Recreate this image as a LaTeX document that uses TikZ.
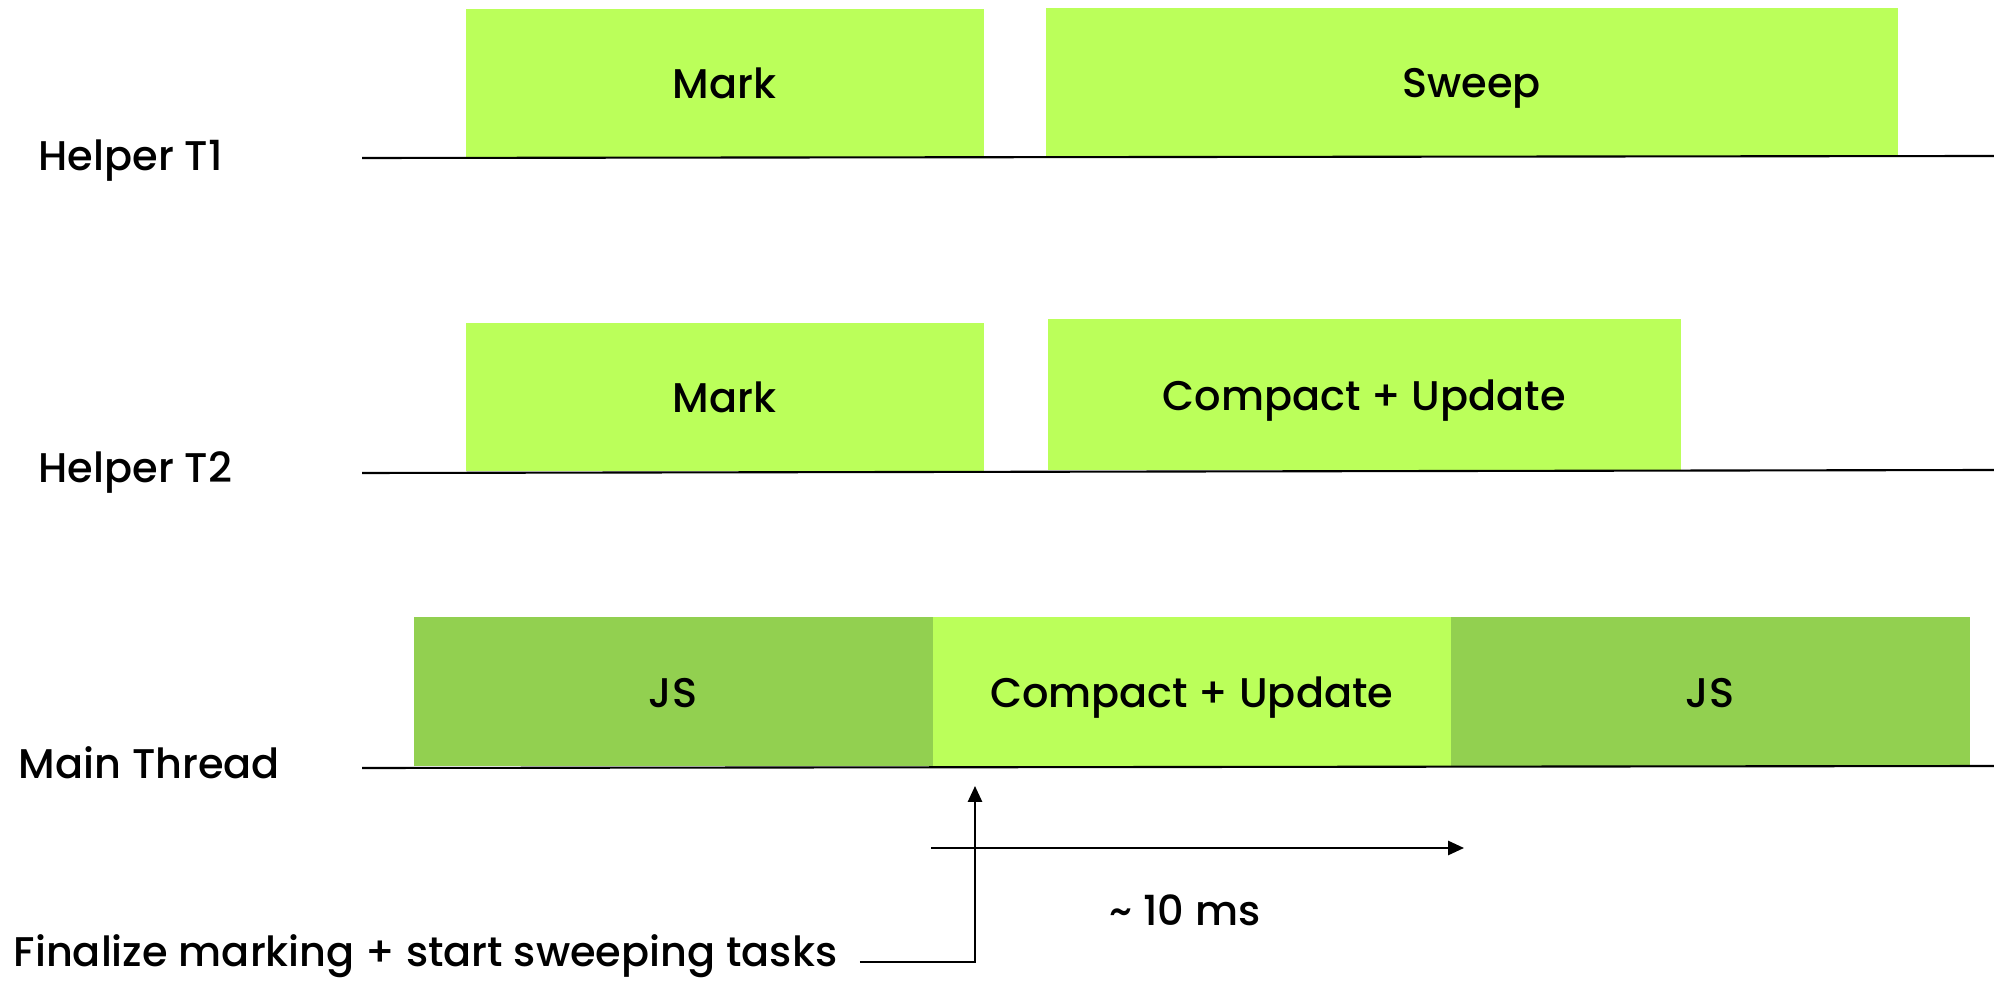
\documentclass[tikz,border=0pt]{standalone}
\usepackage{fontspec}
\setmainfont{Poppins Medium}
\usetikzlibrary{arrows.meta,positioning}
\definecolor{gclight}{HTML}{BBFF5A}
\definecolor{gcdark}{HTML}{92D050}
\begin{document}
\begin{tikzpicture}[
	font=\fontsize{11.8}{14}\selectfont,
	phase/.style={fill=gclight, inner sep=0pt, anchor=south west, minimum height=1.48cm,
		text height=1.6ex, text depth=0pt},
	jsphase/.style={phase, fill=gcdark},
	thread/.style={anchor=west, inner sep=0pt},
	timeline/.style={line width=0.6pt},
	tick/.style={line width=0.6pt, -{Triangle[length=4.5pt,width=4pt]}}
]
	\useasboundingbox (0,0) rectangle (19.94,9.81);
	% thread labels
	\node (T1) at (0.38, 8.20)	[thread]	{Helper T1};
	\node (T2) at (0.38, 5.08)	[thread]	{Helper T2};
	\node (MT) at (0.18, 2.18)	[thread]	{Main Thread};
	% helper thread 1
	\node (M1) at ( 4.65, 8.23)	[phase, minimum width=5.18cm]	{Mark};
	\node (SW) at (10.45, 8.24)	[phase, minimum width=8.52cm]	{Sweep};
	% helper thread 2
	\node (M2) at ( 4.65, 5.09)	[phase, minimum width=5.18cm]	{Mark};
	\node (C2) at (10.47, 5.10)	[phase, minimum width=6.33cm, minimum height=1.51cm]	{Compact + Update};
	% main thread
	\node (JS1) at ( 4.13, 2.14)	[jsphase, minimum width=5.19cm, minimum height=1.49cm]	{JS};
	\node (CM)  at ( 9.32, 2.14)	[phase, minimum width=5.18cm, minimum height=1.49cm]	{Compact + Update};
	\node (JS2) at (14.50, 2.14)	[jsphase, minimum width=5.19cm, minimum height=1.49cm]	{JS};
	% time lines
	\coordinate (T1a) at ( 3.62, 8.23);
	\coordinate (T1b) at (19.94, 8.25);
	\coordinate (T2a) at ( 3.62, 5.08);
	\coordinate (T2b) at (19.94, 5.11);
	\coordinate (MTa) at ( 3.62, 2.13);
	\coordinate (MTb) at (19.94, 2.15);
	\draw[timeline] (T1a) -- (T1b);
	\draw[timeline] (T2a) -- (T2b);
	\draw[timeline] (MTa) -- (MTb);
	% duration
	\coordinate (D0) at ( 9.31, 1.33);
	\coordinate (D1) at (14.64, 1.33);
	\draw[tick] (D0) -- (D1);
	\node (DL) at (11.85, 0.71)	{\textasciitilde{} 10 ms};
	% finalize marker
	\node (FN) at (0.13, 0.25)	[thread]	{Finalize marking + start sweeping tasks};
	\coordinate (UP) at (9.75, 1.95);
	\draw[tick, shorten <=0.22cm] (FN.east |- 0,0.19) -| (UP);
\end{tikzpicture}
\end{document}
